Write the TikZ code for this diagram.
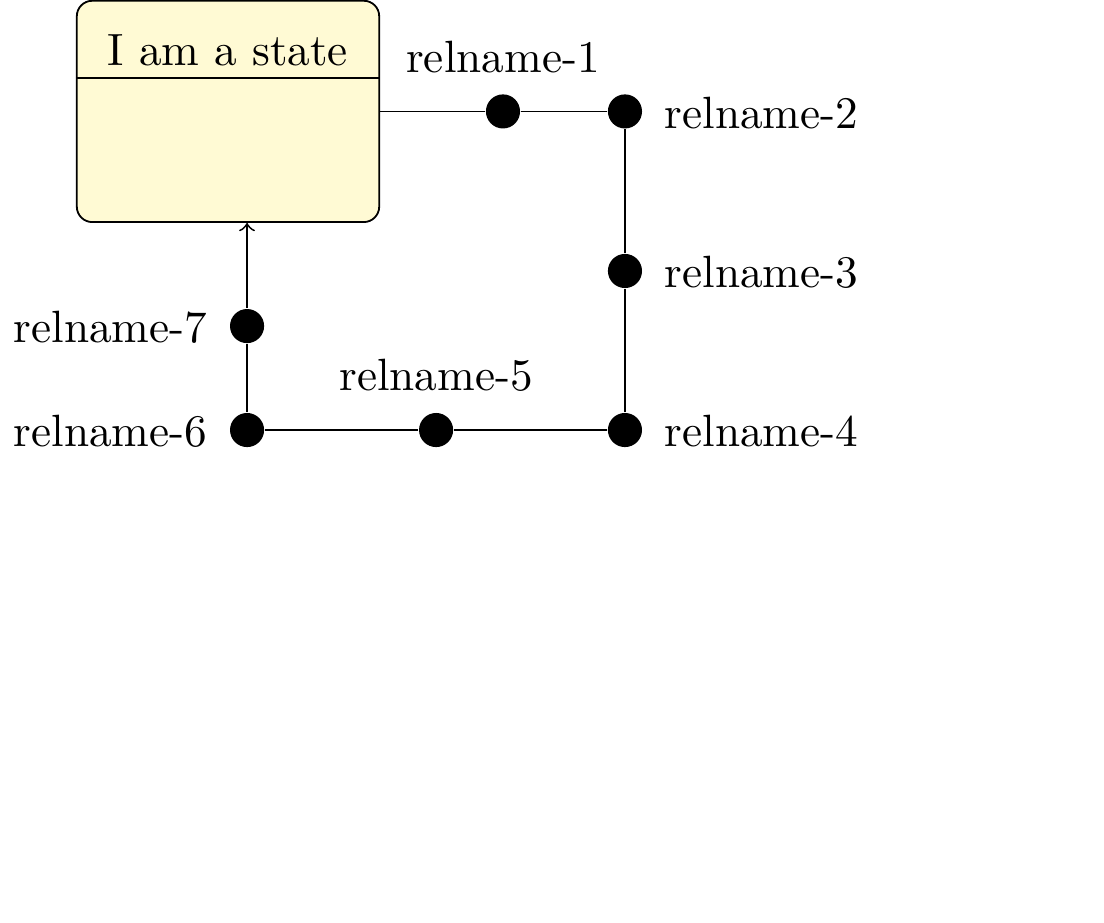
\documentclass[tikz,border=0pt]{standalone}
\usepackage{amsmath}
\usepackage{tikz}
\usetikzlibrary{positioning}
\definecolor{statefill}{RGB}{255,250,212}

\begin{document}
\begin{tikzpicture}
                [
                state/.style={rectangle,draw,fill=statefill,rounded corners=0.12cm,minimum width=2.35cm,minimum height=1.72cm},
                dot/.style={circle,fill=black,inner sep=0pt,minimum size=0.265cm},
                lbl/.style={inner sep=0.333em},
                edge/.style={->}
                ]
            \useasboundingbox (0,0) rectangle (8.58,-7.166);
            \node[state] (st) at (1.772,-0.866) {};
            \node (title) at (1.772,-0.389) {I am a state};
            \draw (st.west |- 0,-0.606) -- (st.east |- 0,-0.606);
            \node[dot] (d1) at (3.909,-0.866) {};
            \node[dot] (d2) at (4.857,-0.866) {};
            \node[dot] (d3) at (4.857,-2.106) {};
            \node[dot] (d4) at (4.857,-3.342) {};
            \node[dot] (d5) at (3.389,-3.342) {};
            \node[dot] (d6) at (1.920,-3.342) {};
            \node[dot] (d7) at (1.920,-2.534) {};
            \node[lbl,above=1pt of d1] (l1) {relname-1};
            \node[lbl,right=1.3pt of d2,yshift=-0.3pt] (l2) {relname-2};
            \node[lbl,right=1.3pt of d3,yshift=-0.3pt] (l3) {relname-3};
            \node[lbl,right=1.3pt of d4,yshift=-0.3pt] (l4) {relname-4};
            \node[lbl,above=1pt of d5] (l5) {relname-5};
            \node[lbl,left=1.3pt of d6,yshift=-0.3pt] (l6) {relname-6};
            \node[lbl,left=1.3pt of d7,yshift=-0.3pt] (l7) {relname-7};
            \draw (st.east) -- (d1) -- (d2) -- (d3) -- (d4) -- (d5) -- (d6) -- (d7);
            \draw[edge] (d7) -- (d7 |- st.south);
            \end{tikzpicture}
\end{document}
